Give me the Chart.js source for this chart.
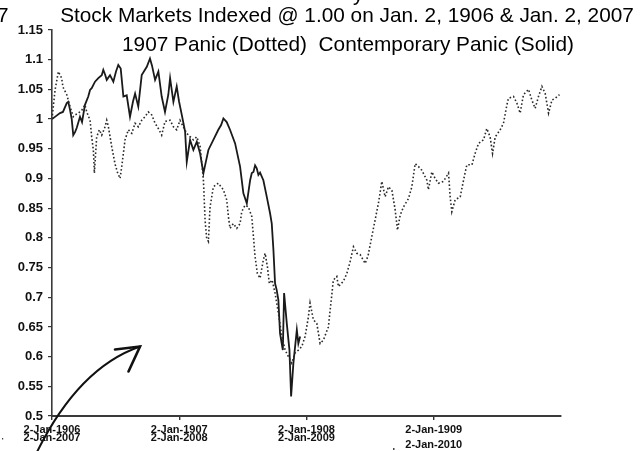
<!DOCTYPE html>
<html><head><meta charset="utf-8">
<script src="https://cdn.jsdelivr.net/npm/chart.js@4"></script>
<style>html,body{margin:0;padding:0;background:#fff;overflow:hidden}canvas{display:block}</style>
</head><body>
<canvas id="c" width="641" height="451"></canvas>
<script>
const titleLine1 = 'Stock Markets Indexed @ 1.00 on Jan. 2, 1906 & Jan. 2, 2007';
const titleLine2 = '1907 Panic (Dotted)  Contemporary Panic (Solid)';

// x = years elapsed since Jan. 2, 1906 (dotted) / Jan. 2, 2007 (solid)
const panic1907Years = [0,0.024,0.050,0.076,0.086,0.116,0.142,0.167,0.181,0.207,0.234,0.259,0.273,0.299,0.312,0.325,0.333,0.351,0.372,0.391,0.417,0.430,0.443,0.469,0.495,0.513,0.535,0.548,0.574,0.600,0.627,0.653,0.678,0.705,0.731,0.757,0.784,0.810,0.836,0.862,0.888,0.928,0.954,0.980,1.006,1.032,1.059,1.111,1.138,1.164,1.190,1.203,1.215,1.229,1.242,1.256,1.268,1.307,1.347,1.373,1.386,1.399,1.425,1.452,1.478,1.491,1.517,1.543,1.570,1.583,1.596,1.614,1.635,1.661,1.675,1.693,1.708,1.730,1.753,1.779,1.806,1.832,1.858,1.884,1.910,1.936,1.963,1.989,2.015,2.028,2.054,2.081,2.107,2.133,2.172,2.211,2.238,2.251,2.290,2.317,2.343,2.369,2.395,2.421,2.461,2.484,2.513,2.539,2.565,2.592,2.618,2.644,2.671,2.697,2.715,2.736,2.762,2.801,2.828,2.854,2.880,2.906,2.946,2.958,2.985,3.011,3.037,3.076,3.116,3.129,3.142,3.168,3.208,3.234,3.260,3.300,3.325,3.352,3.391,3.417,3.443,3.462,3.483,3.522,3.548,3.575,3.587,3.627,3.653,3.679,3.705,3.745,3.771,3.797,3.823,3.850,3.876,3.902,3.929,3.954,3.988];
const panic1907Values = [1.000,1.049,1.080,1.069,1.054,1.041,1.021,1.004,1.007,1.010,1.015,1.024,1.012,0.998,0.970,0.948,0.909,0.970,0.982,0.973,0.987,0.998,0.987,0.954,0.925,0.911,0.900,0.920,0.965,0.982,0.976,0.993,0.987,0.998,1.004,1.012,1.007,0.993,0.984,0.973,0.996,0.998,0.987,0.982,0.998,0.987,0.976,0.965,0.970,0.954,0.897,0.830,0.800,0.794,0.852,0.870,0.886,0.892,0.881,0.864,0.836,0.816,0.824,0.816,0.824,0.844,0.855,0.852,0.836,0.802,0.768,0.740,0.732,0.763,0.774,0.751,0.723,0.729,0.707,0.673,0.634,0.611,0.600,0.589,0.606,0.611,0.617,0.634,0.667,0.690,0.662,0.656,0.622,0.628,0.650,0.729,0.735,0.718,0.727,0.740,0.760,0.785,0.774,0.772,0.757,0.770,0.802,0.830,0.858,0.895,0.869,0.886,0.880,0.847,0.813,0.838,0.852,0.866,0.886,0.925,0.920,0.914,0.897,0.881,0.911,0.900,0.892,0.895,0.909,0.869,0.844,0.864,0.869,0.897,0.923,0.923,0.942,0.959,0.965,0.984,0.970,0.942,0.970,0.982,0.993,1.024,1.035,1.038,1.027,1.010,1.041,1.050,1.032,1.018,1.038,1.055,1.043,1.010,1.032,1.035,1.041];

const contemporaryYears = [0,0.031,0.063,0.086,0.116,0.128,0.142,0.155,0.167,0.181,0.194,0.220,0.236,0.259,0.285,0.299,0.312,0.338,0.364,0.391,0.403,0.417,0.430,0.456,0.482,0.503,0.521,0.540,0.561,0.587,0.613,0.637,0.653,0.678,0.705,0.745,0.770,0.786,0.810,0.836,0.862,0.888,0.914,0.928,0.954,0.980,0.998,1.020,1.046,1.059,1.085,1.111,1.138,1.164,1.190,1.211,1.229,1.268,1.307,1.329,1.347,1.373,1.399,1.439,1.478,1.504,1.531,1.557,1.570,1.583,1.596,1.609,1.622,1.635,1.661,1.688,1.714,1.727,1.740,1.753,1.766,1.779,1.792,1.814,1.824,1.845,1.866,1.879,1.897,1.924,1.936,1.950];
const contemporaryValues = [1.000,1.005,1.010,1.012,1.027,1.029,1.015,1.000,0.973,0.978,0.985,1.004,0.995,1.024,1.038,1.049,1.052,1.063,1.069,1.074,1.083,1.075,1.066,1.074,1.063,1.080,1.091,1.085,1.038,1.040,1.004,1.030,1.043,1.021,1.074,1.088,1.102,1.090,1.066,1.080,1.038,1.012,1.041,1.069,1.029,1.055,1.030,1.007,0.979,0.928,0.965,0.948,0.962,0.942,0.909,0.930,0.948,0.965,0.982,0.990,1.001,0.995,0.982,0.959,0.920,0.875,0.858,0.897,0.909,0.911,0.922,0.917,0.906,0.910,0.897,0.869,0.841,0.824,0.780,0.723,0.712,0.695,0.639,0.611,0.707,0.656,0.611,0.533,0.589,0.645,0.622,0.634];

const xTickYears = [0, 1, 2, 3];
const xTickLabels1900s = ['2-Jan-1906', '2-Jan-1907', '2-Jan-1908', '2-Jan-1909'];
const xTickLabels2000s = ['2-Jan-2007', '2-Jan-2008', '2-Jan-2009', ''];
const xTickLabelsExtra = ['', '', '', '2-Jan-2010'];
const yTickValues = [0.5, 0.55, 0.6, 0.65, 0.7, 0.75, 0.8, 0.85, 0.9, 0.95, 1, 1.05, 1.1, 1.15];
const yTickLabels = ['0.5', '0.55', '0.6', '0.65', '0.7', '0.75', '0.8', '0.85', '0.9', '0.95', '1', '1.05', '1.1', '1.15'];

const FONT = '"Liberation Sans", Arial, sans-serif';

const overlay = {
  id: 'overlay',
  afterDraw(chart) {
    const ctx = chart.ctx;
    ctx.save();
    ctx.fillStyle = '#000';
    ctx.font = '20.8px ' + FONT;
    ctx.textAlign = 'center';
    ctx.textBaseline = 'alphabetic';
    ctx.fillText(titleLine1, 347, 22);
    ctx.fillText(titleLine2, 348, 51);
    ctx.textAlign = 'left';
    ctx.fillText('7', -3, 22);
    ctx.fillText('y', 353, 1);
    // hand-drawn arrow
    ctx.strokeStyle = '#111';
    ctx.lineWidth = 2;
    ctx.lineCap = 'round';
    ctx.beginPath();
    ctx.moveTo(36, 454);
    ctx.quadraticCurveTo(78, 368, 140, 346.5);
    ctx.stroke();
    ctx.lineWidth = 2.6;
    ctx.beginPath();
    ctx.moveTo(115, 349.5);
    ctx.lineTo(140, 346.5);
    ctx.lineTo(128.5, 371.5);
    ctx.stroke();
    // small specks
    ctx.fillStyle = '#444';
    ctx.fillRect(393, 448, 1.5, 2);
    ctx.fillRect(2, 438, 1.2, 1.5);
    ctx.restore();
  }
};

new Chart(document.getElementById('c'), {
  type: 'line',
  data: {
    datasets: [
      {
        label: '1907 Panic (Dotted)',
        data: panic1907Years.map((x, i) => ({ x, y: panic1907Values[i] })),
        borderColor: '#2a2a2a',
        borderWidth: 1.6,
        borderDash: [1.6, 2.2],
        pointRadius: 0,
        tension: 0,
        fill: false
      },
      {
        label: 'Contemporary Panic (Solid)',
        data: contemporaryYears.map((x, i) => ({ x, y: contemporaryValues[i] })),
        borderColor: '#1a1a1a',
        borderWidth: 1.8,
        pointRadius: 0,
        tension: 0,
        fill: false
      }
    ]
  },
  options: {
    responsive: false,
    animation: false,
    devicePixelRatio: 1,
    layout: { padding: { left: 0, top: 30, right: 80, bottom: 0 } },
    plugins: { legend: { display: false }, tooltip: { enabled: false }, title: { display: false } },
    scales: {
      x: {
        type: 'linear',
        min: 0,
        max: 4,
        afterBuildTicks: s => { s.ticks = xTickYears.map(v => ({ value: v })); },
        afterFit: s => { s.height = 35; },
        grid: { drawOnChartArea: false, drawTicks: true, tickLength: 4, color: '#333', lineWidth: 1.4 },
        border: { display: true, color: '#3a3a3a', width: 2 },
        ticks: {
          autoSkip: false,
          maxRotation: 0,
          minRotation: 0,
          padding: 6,
          color: '#111',
          font: { family: FONT, size: 11, weight: 'bold', lineHeight: 0.7 },
          callback: (v) => {
            const i = xTickYears.indexOf(v);
            if (i < 0) return '';
            const lines = [xTickLabels1900s[i], xTickLabels2000s[i]];
            if (xTickLabelsExtra[i]) lines.push(xTickLabelsExtra[i]);
            return lines;
          }
        }
      },
      y: {
        type: 'linear',
        min: 0.5,
        max: 1.15,
        afterBuildTicks: s => { s.ticks = yTickValues.map(v => ({ value: v })); },
        afterFit: s => { s.width = 52; },
        grid: { drawOnChartArea: false, drawTicks: true, tickLength: 4, color: '#333', lineWidth: 1.2 },
        border: { display: true, color: '#3a3a3a', width: 1.6 },
        ticks: {
          padding: 5,
          color: '#111',
          font: { family: FONT, size: 13, weight: 'bold' },
          callback: (v) => yTickLabels[yTickValues.indexOf(v)] ?? ''
        }
      }
    }
  },
  plugins: [overlay]
});
</script>
</body></html>
